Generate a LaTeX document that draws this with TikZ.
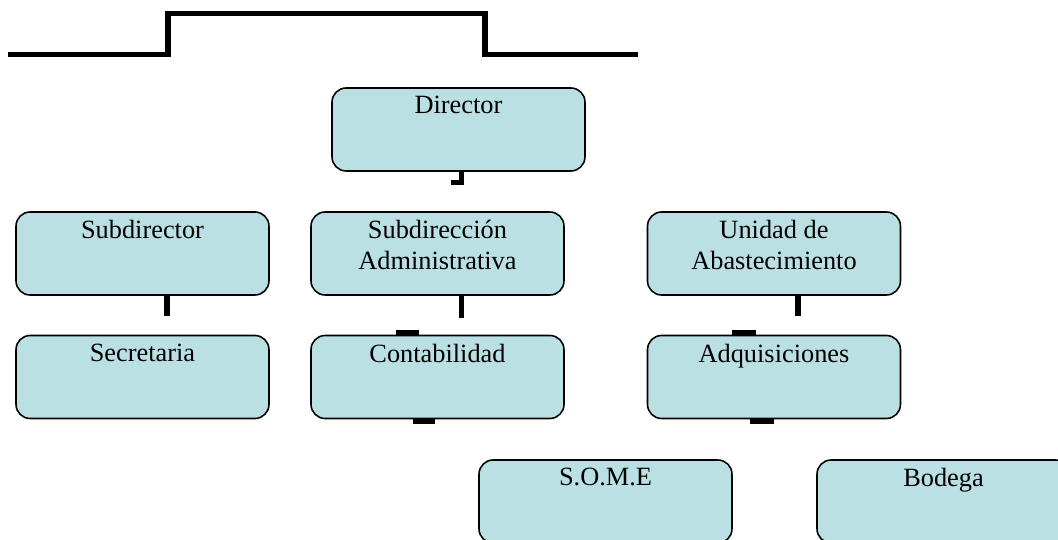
\documentclass[tikz,border=0pt]{standalone}
\usepackage{fontspec}
\setmainfont{Liberation Serif}
\usetikzlibrary{positioning}
\definecolor{boxfill}{RGB}{187,224,227}

\begin{document}
\begin{tikzpicture}[
    x=0.02cm, y=-0.02cm,
    box/.style={
        rectangle, rounded corners=8pt, draw, line width=0.9pt,
        fill=boxfill, minimum width=5.06cm, minimum height=1.66cm,
        inner sep=0pt
    },
    txt/.style={anchor=north, yshift=-5pt, align=center, inner sep=0pt,
        font=\fontsize{15}{17.5}\selectfont},
    stub/.style={line width=3pt},
    bar/.style={line width=3.2pt}
]
\useasboundingbox (0,0) rectangle (1058,540);

% Title bar
\coordinate (barl) at (8,54.5);
\coordinate (barr) at (638,54.5);
\draw[bar] (barl) -- (168,54.5) -- (168,13.5) -- (485,13.5) -- (485,54.5) -- (barr);

% Boxes
\node[box, label={[txt]north:Director}] (dir) at (458.5,129.5) {};

\node[box, label={[txt]north:Subdirector}] (sub) at (142.5,253.5) {};
\node[box, label={[txt]north:Subdirección\\Administrativa}] (adm) at (437.5,253.5) {};
\node[box, label={[txt]north:Unidad de\\Abastecimiento}] (uni) at (774,253.5) {};

\node[box, label={[txt]north:Secretaria}] (sec) at (142.5,377) {};
\node[box, label={[txt]north:Contabilidad}] (cont) at (437.5,377) {};
\node[box, label={[txt]north:Adquisiciones}] (adq) at (774,377) {};

\node[box, label={[txt]north:S.O.M.E}] (some) at (605.5,501.5) {};
\node[box, label={[txt]north:Bodega}] (bod) at (943.5,501.5) {};

% Connector stubs
\draw[stub] ([xshift=1.5pt]dir.south) -- ++(0,11) -- ++(-10.5,0);
\draw[stub] ([xshift=14pt]sub.south) -- ++(0,20);
\draw[stub] ([xshift=13.6pt]adm.south) -- ++(0,22);
\draw[stub] ([xshift=13.6pt]uni.south) -- ++(0,20);

\draw[stub] ([xshift=-23.5pt, yshift=1pt]cont.north) -- ++(23,0);
\draw[stub] ([xshift=-23.8pt, yshift=1pt]adq.north) -- ++(24,0);
\draw[stub] ([xshift=-1.5pt, yshift=-1pt]cont.south) -- ++(-22,0);
\draw[stub] ([yshift=-1pt]adq.south) -- ++(-24,0);
\end{tikzpicture}
\end{document}
